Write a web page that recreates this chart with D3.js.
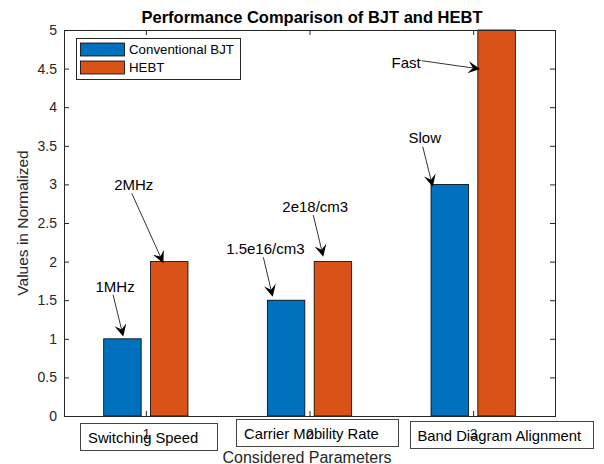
<!DOCTYPE html>
<html>
<head>
<meta charset="utf-8">
<script src="https://cdn.jsdelivr.net/npm/d3@7"></script>
<style>
  body { margin: 0; background: #fff; }
  text { font-family: "Liberation Sans", Arial, sans-serif; }
</style>
</head>
<body>
<div id="chart"></div>
<script>
// Data
var groups = [1, 2, 3];
var seriesNames = ["Conventional BJT", "HEBT"];
var bjtValues = [1, 1.5, 3];
var hebtValues = [2, 2, 5];
var seriesColors = ["#0072BD", "#D95319"];
var categoryLabels = ["Switching Speed", "Carrier Mobility Rate", "Band Diagram Alignment"];
var yTicks = [0, 0.5, 1, 1.5, 2, 2.5, 3, 3.5, 4, 4.5, 5];

// arrow annotations, in data units: [x, y]
var noteLabels = ["1MHz", "2MHz", "1.5e16/cm3", "2e18/cm3", "Slow", "Fast"];
var noteTails = [[0.80, 1.57], [0.914, 2.885], [1.718, 2.056], [2.023, 2.604], [2.692, 3.488], [2.686, 4.602]];
var noteHeads = [[0.862, 1.03], [1.107, 1.98], [1.775, 1.545], [2.084, 2.063], [2.753, 2.97], [3.042, 4.495]];

// Create SVG box
var svgWidth = 604;
var svgHeight = 464;
var margin = { top: 30, right: 49, bottom: 48, left: 64 };
var width = svgWidth - margin.left - margin.right;
var height = svgHeight - margin.top - margin.bottom;

var svg = d3.select("#chart")
  .append("svg")
  .attr("width", svgWidth)
  .attr("height", svgHeight);

var chartGroup = svg.append("g")
  .attr("transform", `translate(${margin.left}, ${margin.top})`);

// scales
var xScale = d3.scaleLinear().domain([0.5, 3.5]).range([0, width]);
var yScale = d3.scaleLinear().domain([0, 5]).range([height, 0]);

var barW = xScale(0.229) - xScale(0);
var offsets = [-0.143, 0.143];
var seriesValues = [bjtValues, hebtValues];

// bars
seriesValues.forEach(function(vals, s) {
  chartGroup.selectAll(".bar" + s)
    .data(groups)
    .enter()
    .append("rect")
    .attr("x", function(d) { return xScale(d + offsets[s]) - barW / 2; })
    .attr("y", function(d, i) { return yScale(vals[i]); })
    .attr("width", barW)
    .attr("height", function(d, i) { return height - yScale(vals[i]); })
    .attr("fill", seriesColors[s])
    .attr("stroke", "#000")
    .attr("stroke-width", 0.8);
});

// axes (ticks pointing inward)
var axisColor = "#262626";
function styleAxis(g) {
  g.select(".domain").remove();
  g.selectAll("line").attr("stroke", axisColor);
  g.selectAll("text").attr("fill", axisColor).style("font-size", "14px");
}

chartGroup.append("g")
  .call(d3.axisLeft(yScale).tickValues(yTicks).tickSize(-5).tickPadding(7).tickFormat(d3.format("")))
  .call(styleAxis);

chartGroup.append("g")
  .attr("transform", `translate(${width},0)`)
  .call(d3.axisRight(yScale).tickValues(yTicks).tickSize(-5).tickFormat(""))
  .call(styleAxis);

chartGroup.append("g")
  .call(d3.axisTop(xScale).tickValues(groups).tickSize(-5).tickFormat(""))
  .call(styleAxis);

chartGroup.append("g")
  .attr("transform", `translate(0,${height})`)
  .call(d3.axisBottom(xScale).tickValues(groups).tickSize(-5).tickPadding(13).tickFormat(d3.format("d")))
  .call(styleAxis);

// axes box
chartGroup.append("rect")
  .attr("x", 0).attr("y", 0)
  .attr("width", width).attr("height", height)
  .attr("fill", "none")
  .attr("stroke", axisColor)
  .attr("stroke-width", 1)
  .attr("shape-rendering", "crispEdges");

// title
svg.append("text")
  .attr("x", 312)
  .attr("y", 23)
  .attr("text-anchor", "middle")
  .style("font-size", "16.5px")
  .style("font-weight", "bold")
  .attr("fill", "#000")
  .text("Performance Comparison of BJT and HEBT");

// y label
svg.append("text")
  .attr("transform", `translate(28, ${margin.top + height / 2}) rotate(-90)`)
  .attr("text-anchor", "middle")
  .style("font-size", "15.5px")
  .attr("fill", axisColor)
  .text("Values in Normalized");

// x label
svg.append("text")
  .attr("x", 307)
  .attr("y", 462.5)
  .attr("text-anchor", "middle")
  .style("font-size", "16px")
  .attr("fill", axisColor)
  .text("Considered Parameters");

// category text boxes below the axis (transparent, like MATLAB textboxes)
var boxLeft = [0.598, 1.551, 2.611];
var boxTop = [423, 419, 421];
var boxWidth = [137, 162, 183];
categoryLabels.forEach(function(lab, i) {
  var g = svg.append("g");
  var bx = margin.left + xScale(boxLeft[i]);
  g.append("rect")
    .attr("x", Math.round(bx) + 0.5)
    .attr("y", boxTop[i] + 0.5)
    .attr("width", boxWidth[i])
    .attr("height", 27)
    .attr("fill", "none")
    .attr("stroke", "#444")
    .attr("stroke-width", 1);
  g.append("text")
    .attr("x", bx + 8)
    .attr("y", boxTop[i] + 20)
    .style("font-size", "14.8px")
    .attr("fill", "#000")
    .text(lab);
});

// legend
var legend = svg.append("g");
legend.append("rect")
  .attr("x", 76.5).attr("y", 38.5)
  .attr("width", 164).attr("height", 41)
  .attr("fill", "#fff")
  .attr("stroke", axisColor)
  .attr("stroke-width", 1);
seriesNames.forEach(function(name, i) {
  legend.append("rect")
    .attr("x", 80.5).attr("y", 43 + i * 18)
    .attr("width", 44).attr("height", 13)
    .attr("fill", seriesColors[i])
    .attr("stroke", "#000")
    .attr("stroke-width", 0.8);
  legend.append("text")
    .attr("x", 129)
    .attr("y", 49.5 + i * 18)
    .attr("dy", "0.35em")
    .style("font-size", "13.3px")
    .attr("fill", "#000")
    .text(name);
});

// text arrows
var notes = chartGroup.append("g");
noteLabels.forEach(function(lab, i) {
  var x1 = xScale(noteTails[i][0]), y1 = yScale(noteTails[i][1]);
  var x2 = xScale(noteHeads[i][0]), y2 = yScale(noteHeads[i][1]);
  var dx = x2 - x1, dy = y2 - y1;
  var len = Math.sqrt(dx * dx + dy * dy);
  var ux = dx / len, uy = dy / len;
  var px = -uy, py = ux;
  var L = 12, W = 6;
  var bx = x2 - ux * L, by = y2 - uy * L;
  var nx = x2 - ux * L * 0.6, ny = y2 - uy * L * 0.6;

  notes.append("line")
    .attr("x1", x1).attr("y1", y1)
    .attr("x2", nx).attr("y2", ny)
    .attr("stroke", "#000")
    .attr("stroke-width", 0.8);
  notes.append("path")
    .attr("d", "M" + x2 + "," + y2 +
      "L" + (bx + px * W) + "," + (by + py * W) +
      "L" + nx + "," + ny +
      "L" + (bx - px * W) + "," + (by - py * W) + "Z")
    .attr("fill", "#000");

  var txt = notes.append("text")
    .style("font-size", "15px")
    .attr("fill", "#000")
    .text(lab);
  if (Math.abs(dx) > Math.abs(dy)) {
    txt.attr("x", x1 - 1).attr("y", y1 + 2).attr("dy", "0.35em").attr("text-anchor", "end");
  } else {
    txt.attr("x", x1 + 2).attr("y", y1 - 8.5).attr("dy", "0.35em").attr("text-anchor", "middle");
  }
});
</script>
</body>
</html>
